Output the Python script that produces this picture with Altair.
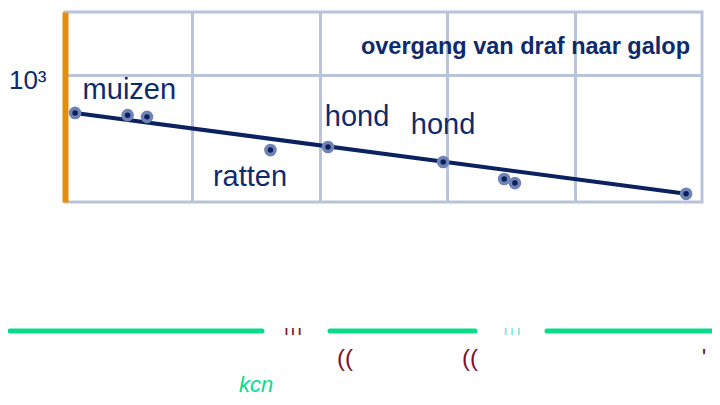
import altair as alt
import pandas as pd

# body mass (kg) and frequency at trot-gallop transition (per min)
mass = [0.012, 0.031, 0.044, 0.41, 1.16, 9.3, 28, 34, 750]
freq = [505, 485, 470, 257, 272, 207, 152, 141, 116]

# fitted line endpoints
fit_mass = [0.012, 750]
fit_freq = [505, 116]

# annotation labels
lab_text = ["muizen", "ratten", "hond", "hond"]
lab_mass = [0.032, 0.283, 1.96, 9.27]
lab_freq = [766, 157, 469, 405]

title_text = ["overgang van draf naar galop"]
title_mass = [805]
title_freq = [1671]

NAVY = "#0e2a6e"
GRID = "#b9c3d9"
ORANGE = "#e58e0c"

pts = pd.DataFrame({"mass": mass, "freq": freq})
fit = pd.DataFrame({"mass": fit_mass, "freq": fit_freq})
labs = pd.DataFrame({"label": lab_text, "mass": lab_mass, "freq": lab_freq})
ttl = pd.DataFrame({"label": title_text, "mass": title_mass, "freq": title_freq})

xs = alt.Scale(type="log", domain=[0.01, 1000], nice=False)
ys = alt.Scale(type="log", domain=[100, 3162.28], nice=False)

xax = alt.Axis(values=[0.1, 1, 10, 100], grid=True, gridColor=GRID, gridWidth=3,
               labels=False, ticks=False, domain=False, title=None)
yax = alt.Axis(values=[1000], grid=True, gridColor=GRID, gridWidth=3,
               labelExpr="'10³'", labelFontSize=26, labelColor=NAVY,
               labelFont="Liberation Sans", labelPadding=19, labelOffset=5, ticks=False,
               domain=True, domainColor=ORANGE, domainWidth=6, title=None)

base = alt.Chart(pts).encode(
    x=alt.X("mass:Q", scale=xs, axis=xax),
    y=alt.Y("freq:Q", scale=ys, axis=yax),
)

line = alt.Chart(fit).mark_line(color="#0b2160", strokeWidth=4).encode(
    x=alt.X("mass:Q", scale=xs), y=alt.Y("freq:Q", scale=ys))

outer = base.mark_point(filled=True, size=160, color="#6f84b4", opacity=1)
inner = base.mark_point(filled=True, size=30, color="#0b1f5c", opacity=1)

labels = alt.Chart(labs).mark_text(fontSize=29, color=NAVY, font="Liberation Sans").encode(
    x=alt.X("mass:Q", scale=xs), y=alt.Y("freq:Q", scale=ys), text="label:N")

title = alt.Chart(ttl).mark_text(fontSize=23.5, fontWeight="bold", color=NAVY,
                                 font="Liberation Sans", align="right").encode(
    x=alt.X("mass:Q", scale=xs), y=alt.Y("freq:Q", scale=ys), text="label:N")

# decorative green strokes below the panel
g_x = [-55, 265, 482]
g_x2 = [197, 410, 670]
green = pd.DataFrame({"x": g_x, "x2": g_x2})
green_rules = alt.Chart(green).mark_rule(color="#08dc88", strokeWidth=5, strokeCap="round").encode(
    x=alt.X("x:Q", scale=None), x2="x2:Q", y=alt.value(319))

red_txt = ["((", "((", "'"]
red_x = [280, 405, 639]
reds = pd.DataFrame({"t": red_txt, "x": red_x})
red_marks = alt.Chart(reds).mark_text(fontSize=24, color="#7a1030", font="Liberation Sans").encode(
    x=alt.X("x:Q", scale=None), y=alt.value(347), text="t:N")

bar_txt = ["ı  ı  ı", "ı  ı  ı"]
bar_x = [228, 447]
bar_col = ["#7a1030", "#7fe8e0"]
bars = pd.DataFrame({"t": bar_txt, "x": bar_x, "c": bar_col})
bar_marks = alt.Chart(bars).mark_text(fontSize=12, font="Liberation Sans", fontWeight="bold").encode(
    x=alt.X("x:Q", scale=None), y=alt.value(319), text="t:N",
    color=alt.Color("c:N", scale=None))

kcn = alt.Chart(pd.DataFrame({"t": ["kcn"], "x": [191]})).mark_text(
    fontSize=22, color="#08dc88", fontStyle="italic", font="Liberation Sans").encode(
    x=alt.X("x:Q", scale=None), y=alt.value(373), text="t:N")

chart = alt.layer(base.mark_point(opacity=0), line, outer, inner, labels, title,
                  green_rules, red_marks, bar_marks, kcn).properties(
    width=637, height=190,
    autosize=alt.AutoSizeParams(type="none"),
    padding={"left": 57, "top": 4, "right": 10, "bottom": 195},
).configure_view(stroke=GRID, strokeWidth=3)

chart.save("out.html", embed_options={"renderer": "svg", "actions": False})
